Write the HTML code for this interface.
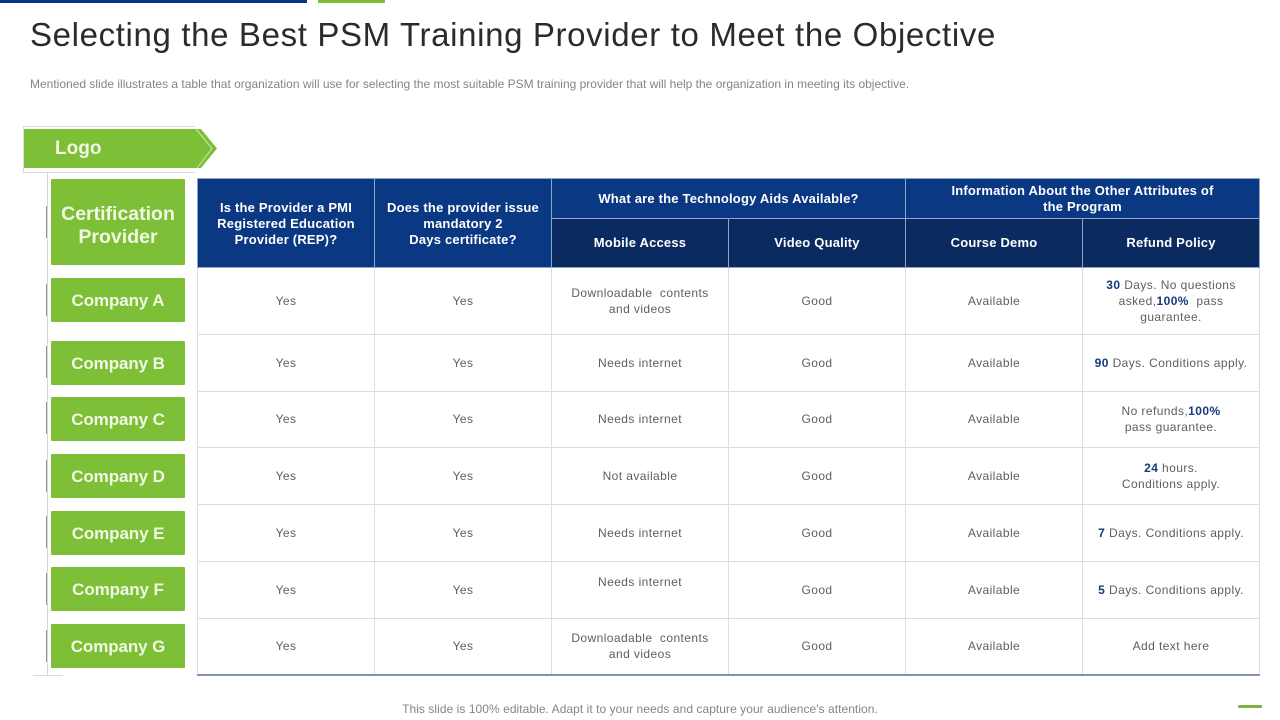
<!DOCTYPE html>
<html lang="en">
<head>
<meta charset="utf-8">
<title>Selecting the Best PSM Training Provider</title>
<style>
html,body{margin:0;padding:0;background:#fff}
#slide{position:relative;width:1280px;height:720px;overflow:hidden;background:#fff;font-family:"Liberation Sans",sans-serif}
.abs{position:absolute}
.side{position:absolute;left:51px;width:134px;background:#7dbf36;color:#f1f8e4;font-weight:bold;font-size:17px;letter-spacing:-.1px;display:flex;align-items:center;justify-content:center;text-align:center;border-radius:1px;box-sizing:border-box;padding-top:2px}
.tick{position:absolute;left:46px;width:1px;background:#8f9f80}
table{position:absolute;left:197px;top:178px;width:1062px;border-collapse:collapse;table-layout:fixed}
th,td{padding:0;text-align:center;vertical-align:middle;overflow:hidden}
th{color:#fff;font-size:13px;line-height:16px;font-weight:bold;letter-spacing:.2px;border:1px solid #8fa6cc}
th.a{background:#0b3882}
th.b{background:#0a2a60}
th.r{padding-top:2px}
td{color:#5e5e5e;font-size:12px;line-height:16px;letter-spacing:.42px;border:1px solid #dcdee6}
td b{color:#163a7a}
tr.last td{border-bottom:2px solid #8593ad;padding-bottom:1px}
</style>
</head>
<body>
<div id="slide">
  <div class="abs" style="left:0;top:0;width:307px;height:3px;background:#0b3480"></div>
  <div class="abs" style="left:318px;top:0;width:67px;height:3px;background:#7dbf36"></div>

  <div class="abs" style="left:30px;top:15px;font-size:33px;line-height:40px;color:#2b2b2b;white-space:nowrap;letter-spacing:.64px">Selecting the Best PSM Training Provider to Meet the Objective</div>
  <div class="abs" style="left:30px;top:77px;font-size:12px;line-height:14px;color:#858585;white-space:nowrap;letter-spacing:0">Mentioned slide illustrates a table that organization will use for selecting the most suitable PSM training provider that will help the organization in meeting its objective.</div>

  <svg class="abs" style="left:0;top:0" width="260" height="720">
    <path d="M195 126.500H23.500V172.500H195" fill="none" stroke="#dcdcdc"/>
    <path d="M24 129H201L217 148.500L201 168H24Z" fill="#7dbf36"/>
    <path d="M196 129L212 148.500L197 168" fill="none" stroke="#cfe6ae" stroke-width="1"/>
    <path d="M47.500 172V675" stroke="#d8d8d8" fill="none"/>
    <path d="M33 675.500H63" stroke="#dcdcdc" fill="none"/>
  </svg>
  <div class="abs" style="left:55px;top:136px;font-size:19px;line-height:25px;font-weight:bold;color:#f1f8e4">Logo</div>

  <div class="tick" style="top:206px;height:32px"></div>
  <div class="tick" style="top:284px;height:32px"></div>
  <div class="tick" style="top:346px;height:32px"></div>
  <div class="tick" style="top:402px;height:32px"></div>
  <div class="tick" style="top:460px;height:32px"></div>
  <div class="tick" style="top:516px;height:32px"></div>
  <div class="tick" style="top:573px;height:32px"></div>
  <div class="tick" style="top:630px;height:32px"></div>

  <div class="side" style="top:179px;height:86px;font-size:19.500px;line-height:23px;letter-spacing:0;padding-top:7px">Certification<br>Provider</div>
  <div class="side" style="top:278px;height:44px">Company A</div>
  <div class="side" style="top:341px;height:44px">Company B</div>
  <div class="side" style="top:397px;height:44px">Company C</div>
  <div class="side" style="top:454px;height:44px">Company D</div>
  <div class="side" style="top:511px;height:44px">Company E</div>
  <div class="side" style="top:567px;height:44px">Company F</div>
  <div class="side" style="top:624px;height:44px">Company G</div>

  <table>
    <colgroup><col style="width:177px"><col style="width:177px"><col style="width:177px"><col style="width:177px"><col style="width:177px"><col style="width:177px"></colgroup>
    <tr style="height:40px">
      <th class="a r" rowspan="2">Is the Provider a PMI<br>Registered Education<br>Provider (REP)?</th>
      <th class="a r" rowspan="2">Does the provider issue<br>mandatory 2<br>Days certificate?</th>
      <th class="a" colspan="2">What are the Technology Aids Available?</th>
      <th class="a" colspan="2">Information About the Other Attributes of<br>the Program</th>
    </tr>
    <tr style="height:49px">
      <th class="b">Mobile Access</th>
      <th class="b">Video Quality</th>
      <th class="b">Course Demo</th>
      <th class="b">Refund Policy</th>
    </tr>
    <tr style="height:67px"><td>Yes</td><td>Yes</td><td>Downloadable&nbsp; contents<br>and videos</td><td>Good</td><td>Available</td><td><b>30</b> Days. No questions<br>asked,<b>100%</b>&nbsp; pass<br>guarantee.</td></tr>
    <tr style="height:57px"><td>Yes</td><td>Yes</td><td>Needs internet</td><td>Good</td><td>Available</td><td><b>90</b> Days. Conditions apply.</td></tr>
    <tr style="height:56px"><td style="padding-bottom:1px">Yes</td><td style="padding-bottom:1px">Yes</td><td style="padding-bottom:1px">Needs internet</td><td style="padding-bottom:1px">Good</td><td style="padding-bottom:1px">Available</td><td style="padding-bottom:1px">No refunds,<b>100%</b><br>pass guarantee.</td></tr>
    <tr style="height:57px"><td>Yes</td><td>Yes</td><td>Not available</td><td>Good</td><td>Available</td><td><b>24</b> hours.<br>Conditions apply.</td></tr>
    <tr style="height:57px"><td>Yes</td><td>Yes</td><td>Needs internet</td><td>Good</td><td>Available</td><td><b>7</b> Days. Conditions apply.</td></tr>
    <tr style="height:57px"><td>Yes</td><td>Yes</td><td style="padding-bottom:16px">Needs internet</td><td>Good</td><td>Available</td><td><b>5</b> Days. Conditions apply.</td></tr>
    <tr class="last" style="height:56px"><td>Yes</td><td>Yes</td><td>Downloadable&nbsp; contents<br>and videos</td><td>Good</td><td>Available</td><td>Add text here</td></tr>
  </table>

  <div class="abs" style="left:0;top:702px;width:1280px;text-align:center;font-size:12px;line-height:14px;letter-spacing:.05px;color:#858585">This slide is 100% editable. Adapt it to your needs and capture your audience's attention.</div>
  <div class="abs" style="left:1238px;top:705px;width:24px;height:3px;background:#7fb241;border-radius:1px"></div>
</div>
</body>
</html>
